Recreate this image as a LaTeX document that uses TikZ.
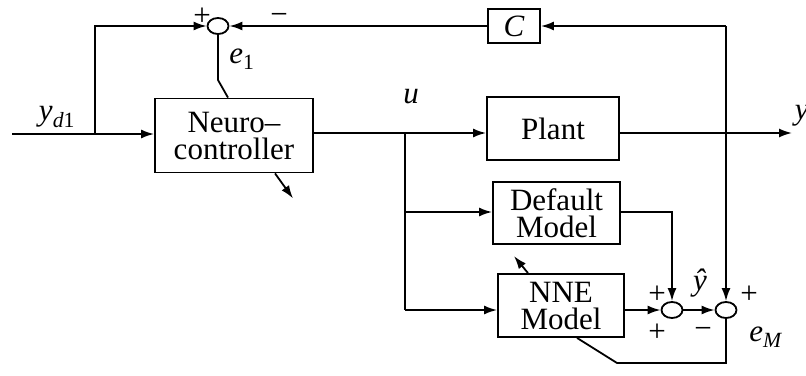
\documentclass[tikz,border=0pt]{standalone}
\usepackage{fontspec}
\setmainfont{Liberation Serif}
\usetikzlibrary{arrows.meta,shapes.geometric}
\begin{document}
\begin{tikzpicture}[x=1pt,y=-1pt,
  line width=1.8pt,
  >={Latex[length=13pt,width=9pt]},
  blk/.style={draw,rectangle,inner sep=0pt,align=center,font=\fontsize{31}{27}\selectfont},
  sumj/.style={draw,ellipse,inner sep=0pt,minimum width=21pt,minimum height=16pt},
  lbl/.style={inner sep=0pt,font=\fontsize{31}{31}\selectfont},
  sgn/.style={inner sep=0pt,font=\fontsize{31}{31}\selectfont}]
\useasboundingbox (0,0) rectangle (806,375);
% blocks
\node[blk,minimum width=158pt,minimum height=74pt] (nc) at (234,135.5) {Neuro–\\controller};
\node[blk,minimum width=132pt,minimum height=63pt] (plant) at (553,128.5) {Plant};
\node[blk,minimum width=52pt,minimum height=34pt] (C) at (514,26) {\textit{C}};
\node[blk,minimum width=127pt,minimum height=62pt] (def) at (556.5,213) {Default\\Model};
\node[blk,minimum width=126pt,minimum height=63pt] (nne) at (561,305.5) {NNE\\Model};
% summing junctions
\node[sumj] (s1) at (218,26) {};
\node[sumj] (s3) at (672,310) {};
\node[sumj] (s4) at (726,310) {};
% helper coordinates
\coordinate (in) at (12,134);
\coordinate (jl) at (95,134);
\coordinate (bu) at (405,133);
\coordinate (bd) at (405,212);
\coordinate (bn) at (405,310);
\coordinate (fb) at (726,26);
\coordinate (yout) at (792,133);
\coordinate (e1k) at (218,80);
\coordinate (e1t) at (228,0);
\coordinate (nca) at (275,0);
\coordinate (bot1) at (726,363);
\coordinate (bot2) at (617,363);
\coordinate (nnb) at (577,0);
\coordinate (nnt) at (528,0);
% connectors
\draw[->] (in) -- (nc.west |- in);
\draw[->] (jl) |- (s1.west);
\draw[->] (C.west) -- (s1.east);
\draw[->] (fb) -- (C.east);
\draw[->] (fb) -- (s4.north);
\draw (s1.south) -- (e1k) -- (nc.north -| e1t);
\draw[->] (nc.south -| nca) -- ++(18,25);
\draw (nc.east |- bu) -- (bu);
\draw[->] (bu) -- (plant.west |- bu);
\draw[->] (plant.east |- bu) -- (yout);
\draw (bu) -- (bn);
\draw[->] (bd) -- (def.west |- bd);
\draw[->] (bn) -- (nne.west |- bn);
\draw[->] (nne.east |- s3) -- (s3.west);
\draw[->] (def.east |- bd) -| (s3.north);
\draw[->] (s3.east) -- (s4.west);
\draw (s4.south) -- (bot1) -- (bot2) -- (nne.south -| nnb);
\draw[->] (nne.north -| nnt) -- ++(-14,-17);
% labels
\node[lbl] at (57,117) {\textit{y}\textsubscript{\textit{d}1}};
\node[lbl] at (242,59) {\textit{e}\textsubscript{1}};
\node[lbl] at (411,97) {\textit{u}};
\node[lbl,anchor=west] at (794,116) {\textit{y}};
\node[lbl] at (700,283) {\textit{ŷ}};
\node[lbl] at (766,337) {\textit{e}\textsubscript{\textit{M}}};
\node[sgn] at (202,17) {+};
\node[sgn] at (279,19) {−};
\node[sgn] at (657,295) {+};
\node[sgn] at (657,333) {+};
\node[sgn] at (703,333) {−};
\node[sgn] at (749,295) {+};
\end{tikzpicture}
\end{document}
